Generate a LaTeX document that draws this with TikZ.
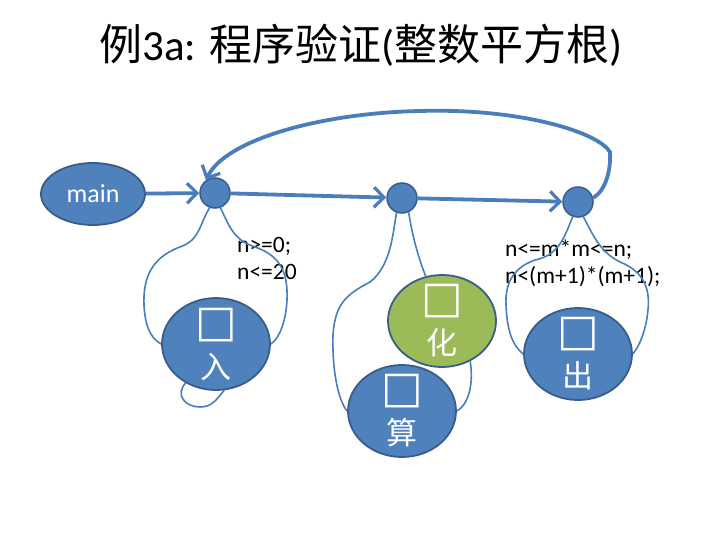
\documentclass[tikz,border=0pt]{standalone}
\usepackage{fontspec}
\setmainfont{Carlito}
\newfontfamily\cjk{Noto Sans CJK SC}
\newfontfamily\sym{DejaVu Sans}
\usetikzlibrary{shapes.geometric,arrows.meta}
\definecolor{bfill}{HTML}{4F81BD}
\definecolor{bdraw}{HTML}{385D8A}
\definecolor{gfill}{HTML}{9BBB59}
\definecolor{lcol}{HTML}{4A7EBB}
\newcommand{\bx}{{\sym\bfseries\fontsize{44}{42}\selectfont □}}
\tikzset{
  ell/.style={ellipse, fill=bfill, draw=bdraw, line width=1.8pt, minimum width=108pt, minimum height=92pt, inner sep=-16pt,
    text=white, align=center, font=\cjk\fontsize{31}{42}\selectfont},
  dot/.style={circle, fill=bfill, draw=bdraw, line width=1.5pt, minimum size=30pt, inner sep=0pt},
  arr/.style={draw=lcol, line width=3.8pt, -{Straight Barb[length=10pt,width=20pt,line width=3.2pt]}},
  thin/.style={draw=lcol, line width=1.6pt},
  lbl/.style={anchor=west, align=left, font=\fontsize{23.5}{27}\selectfont, inner sep=0pt}
}
\begin{document}
\begin{tikzpicture}[x=1pt,y=-1pt]
\useasboundingbox (0,0) rectangle (720,540);
\node (title) at (361,45) {\fontsize{43}{50}\selectfont{\cjk 例}3a: {\cjk 程序验证}({\cjk 整数平方根})};
\node[ellipse, fill=bfill, draw=bdraw, line width=1.8pt, minimum width=104pt, minimum height=62pt, inner sep=0pt, text=white, font=\fontsize{26}{30}\selectfont] (main) at (93,194) {main};
\node[dot] (n1) at (215,193) {};
\node[dot] (n2) at (402,198) {};
\node[dot] (n3) at (578,202) {};
\node[ell] (in) at (216,344) {\bx\\入};
\node[ell, fill=gfill] (hua) at (442,321) {\bx\\化};
\node[ell] (suan) at (402,411) {\bx\\算};
\node[ell] (out) at (578,354) {\bx\\出};
\node[lbl] (l1) at (237,258) {n>=0;\\n<=20};
\node[lbl] (l2) at (505,263) {n<=m*m<=n;\\n<(m+1)*(m+1);};
% arrows
\draw[arr] (main) -- (n1);
\draw[arr] (n1) -- (n2);
\draw[arr] (n2) -- (n3);
\draw[arr] (n3.15) .. controls (606,190) and (611,170) .. (610,152)
  .. controls (598,132) and (520,108) .. (420,111)
  .. controls (320,113) and (225,140) .. (n1.125);
% loops node1
\draw[thin] (n1.250) .. controls (199,225) and (200,240) .. (180,247)
  .. controls (150,258) and (143,280) .. (144,305)
  .. controls (145,325) and (150,338) .. (in.west);
\draw[thin] (n1.290) .. controls (229,225) and (233,240) .. (255,247)
  .. controls (282,256) and (288,275) .. (287,300)
  .. controls (286,320) and (280,338) .. (in.east);
\draw[thin] (in.232) .. controls (175,395) and (185,407) .. (200,407)
  .. controls (212,407) and (216,400) .. (in.280);
% loops node2
\draw[thin] (n2.250) .. controls (393,230) and (392,265) .. (370,282)
  .. controls (345,295) and (335,305) .. (333,335)
  .. controls (332,370) and (338,400) .. (suan.west);
\draw[thin] (n2.295) .. controls (413,240) and (420,262) .. (hua.110);
\draw[thin] (hua.305) .. controls (474,385) and (468,405) .. (suan.east);
% loops node3
\draw[thin] (n3.250) .. controls (565,235) and (560,255) .. (535,260)
  .. controls (512,268) and (505,285) .. (506,305)
  .. controls (507,330) and (512,345) .. (out.west);
\draw[thin] (n3.290) .. controls (593,235) and (600,252) .. (620,262)
  .. controls (645,272) and (650,290) .. (648,310)
  .. controls (646,330) and (640,345) .. (out.east);
\end{tikzpicture}
\end{document}
